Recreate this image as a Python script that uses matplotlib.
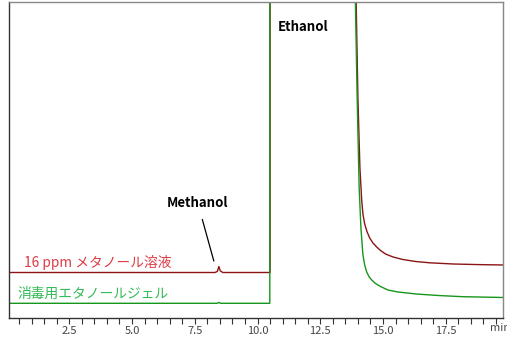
import matplotlib
matplotlib.use("Agg")
import matplotlib.pyplot as plt
from matplotlib.ticker import MultipleLocator, FormatStrFormatter

plt.rcParams['font.family'] = ['Noto Sans CJK JP', 'DejaVu Sans']

# 16 ppm methanol standard (time in min, detector signal in arbitrary units)
red_t = [0.1, 8.3, 8.4, 8.46, 8.52, 8.62, 10.5, 10.5, 13.85, 13.92, 14.0, 14.08,
         14.15, 14.2, 14.27, 14.36, 14.47, 14.6, 14.75, 14.9, 15.1, 15.4,
         15.79, 16.3, 16.86, 17.8, 18.8, 19.8]
red_y = [45.5, 45.5, 46.5, 51.5, 47.0, 45.5, 45.5, 1000, 1000, 330, 220, 150,
         118, 104, 94, 86.5, 80, 75, 71, 67.5, 64, 61,
         58.5, 56.5, 55.2, 54, 53.4, 53]

# disinfectant ethanol gel
green_t = [0.1, 8.4, 8.46, 8.52, 10.49, 10.49, 13.82, 13.89, 13.97, 14.05, 14.12,
           14.2, 14.27, 14.35, 14.45, 14.55, 14.7, 14.9, 15.19, 15.6, 16.33,
           17.2, 18.18, 19.8]
green_y = [14.7, 14.7, 15.7, 14.7, 14.7, 1000, 1000, 330, 220, 130, 90,
           63, 53, 46, 41, 38, 34.5, 31.5, 28, 26, 24,
           22.5, 21.3, 20.5]

red_label = "16 ppm メタノール溶液"
green_label = "消毒用エタノールジェル"

fig = plt.figure(figsize=(5.07, 3.38), dpi=100)
ax = fig.add_axes([9 / 507, 20 / 338, 494 / 507, 316 / 338])

ax.plot(red_t, red_y, color='#8b1414', lw=1.0)
ax.plot(green_t, green_y, color='#16961c', lw=1.0)

ax.set_xlim(0.1, 19.78)
ax.set_ylim(0, 316)

# labels
ax.text(0.69, 56, red_label, color='#dc3c44', fontsize=9.9, va='center')
ax.text(0.45, 24, green_label, color='#33bb55', fontsize=9.9, va='center')
ax.text(11.8, 291, "Ethanol", fontsize=9.5, fontweight='bold', ha='center', va='center')
ax.annotate("Methanol", xy=(8.26, 57), xytext=(7.62, 115),
            fontsize=9.5, fontweight='bold', ha='center', va='center',
            arrowprops=dict(arrowstyle='-', color='black', lw=0.9,
                            shrinkA=5, shrinkB=0))

# axes styling
ax.set_yticks([])
ax.xaxis.set_major_locator(MultipleLocator(2.5))
ax.xaxis.set_minor_locator(MultipleLocator(0.5))
ax.xaxis.set_major_formatter(FormatStrFormatter('%.1f'))
ax.tick_params(axis='x', which='both', direction='out', length=4, width=0.8,
               color='#333333', labelsize=8, labelcolor='#444444', pad=2)
ax.spines['left'].set_color('#333333')
ax.spines['bottom'].set_color('#333333')
ax.spines['top'].set_color('#888888')
ax.spines['right'].set_color('#888888')
for s in ax.spines.values():
    s.set_linewidth(1.0)

# unit label, partly cut off at the right edge as in the original
fig.text(490 / 507, 10 / 338, "min", fontsize=8, color='#444444', va='center')

fig.savefig('out.png', dpi=100)
